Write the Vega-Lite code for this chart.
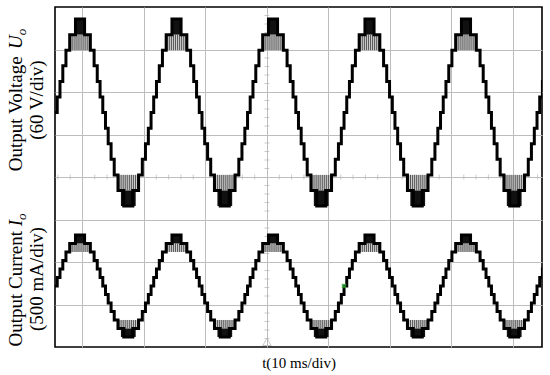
{
  "$schema": "https://vega.github.io/schema/vega-lite/v6.json",
  "width": 487,
  "height": 340,
  "autosize": "none",
  "padding": {"left": 55, "top": 7, "right": 8, "bottom": 28},
  "background": "#ffffff",
  "config": {"view": {"stroke": "#000000", "strokeWidth": 1.6}, "font": "Liberation Serif"},
  "datasets": {
    "minorV": [
      {"t":0,"d":-3.8},{"t":0,"d":-3.6},{"t":0,"d":-3.4},{"t":0,"d":-3.2},{"t":0,"d":-2.8},{"t":0,"d":-2.6},{"t":0,"d":-2.4},{"t":0,"d":-2.2},
      {"t":0,"d":-1.8},{"t":0,"d":-1.6},{"t":0,"d":-1.4},{"t":0,"d":-1.2},{"t":0,"d":-0.8},{"t":0,"d":-0.6},{"t":0,"d":-0.4},{"t":0,"d":-0.2},
      {"t":0,"d":0.2},{"t":0,"d":0.4},{"t":0,"d":0.6},{"t":0,"d":0.8},{"t":0,"d":1.2},{"t":0,"d":1.4},{"t":0,"d":1.6},{"t":0,"d":1.8},
      {"t":0,"d":2.2},{"t":0,"d":2.4},{"t":0,"d":2.6},{"t":0,"d":2.8},{"t":0,"d":3.2},{"t":0,"d":3.4},{"t":0,"d":3.6},{"t":0,"d":3.8}
    ],
    "minorH": [
      {"t":-34,"d":0},{"t":-32,"d":0},{"t":-28,"d":0},{"t":-26,"d":0},{"t":-24,"d":0},{"t":-22,"d":0},{"t":-18,"d":0},{"t":-16,"d":0},
      {"t":-14,"d":0},{"t":-12,"d":0},{"t":-8,"d":0},{"t":-6,"d":0},{"t":-4,"d":0},{"t":-2,"d":0},{"t":2,"d":0},{"t":4,"d":0},
      {"t":6,"d":0},{"t":8,"d":0},{"t":12,"d":0},{"t":14,"d":0},{"t":16,"d":0},{"t":18,"d":0},{"t":22,"d":0},{"t":24,"d":0},
      {"t":26,"d":0},{"t":28,"d":0},{"t":32,"d":0},{"t":34,"d":0},{"t":36,"d":0},{"t":38,"d":0},{"t":42,"d":0},{"t":44,"d":0}
    ],
    "labels": [
      {"t":-39.84,"d":0.134,"label":"Output Voltage"},
      {"t":-36.42,"d":0.874,"label":"(60 V/div)"},
      {"t":-39.84,"d":-3.99,"label":"Output Current"},
      {"t":-36.42,"d":-3.624,"label":"(500 mA/div)"}
    ],
    "italics": [
      {"t":-39.84,"d":3.014,"label":"U"},
      {"t":-39.84,"d":-1.16,"label":"I"}
    ],
    "subs": [
      {"t":-39.84,"d":3.336,"label":"o"},
      {"t":-39.84,"d":-1.012,"label":"o"}
    ],
    "markers": [
      {"t":0,"d":-3.88,"kind":"trigger"}
    ],
    "cursor": [
      {"t":12.52,"d":-2.565}
    ],
    "chop": [
      {"t1":-32.08,"t2":-28.72,"u1":88,"u2":110,"i1":0.4,"i2":0.5,"shade":"sparse"},
      {"t1":-16.39,"t2":-13.03,"u1":88,"u2":110,"i1":0.4,"i2":0.5,"shade":"sparse"},
      {"t1":-0.70,"t2":2.66,"u1":88,"u2":110,"i1":0.4,"i2":0.5,"shade":"sparse"},
      {"t1":14.99,"t2":18.35,"u1":88,"u2":110,"i1":0.4,"i2":0.5,"shade":"sparse"},
      {"t1":30.68,"t2":34.04,"u1":88,"u2":110,"i1":0.4,"i2":0.5,"shade":"sparse"},
      {"t1":-24.25,"t2":-20.85,"u1":-110,"u2":-88,"i1":-0.5,"i2":-0.4,"shade":"sparse"},
      {"t1":-8.56,"t2":-5.16,"u1":-110,"u2":-88,"i1":-0.5,"i2":-0.4,"shade":"sparse"},
      {"t1":7.12,"t2":10.52,"u1":-110,"u2":-88,"i1":-0.5,"i2":-0.4,"shade":"sparse"},
      {"t1":22.81,"t2":26.21,"u1":-110,"u2":-88,"i1":-0.5,"i2":-0.4,"shade":"sparse"},
      {"t1":38.50,"t2":41.90,"u1":-110,"u2":-88,"i1":-0.5,"i2":-0.4,"shade":"sparse"},
      {"t1":-31.25,"t2":-29.55,"u1":110,"u2":132,"i1":0.5,"i2":0.6,"shade":"dense"},
      {"t1":-15.56,"t2":-13.86,"u1":110,"u2":132,"i1":0.5,"i2":0.6,"shade":"dense"},
      {"t1":0.13,"t2":1.83,"u1":110,"u2":132,"i1":0.5,"i2":0.6,"shade":"dense"},
      {"t1":15.82,"t2":17.52,"u1":110,"u2":132,"i1":0.5,"i2":0.6,"shade":"dense"},
      {"t1":31.51,"t2":33.21,"u1":110,"u2":132,"i1":0.5,"i2":0.6,"shade":"dense"},
      {"t1":-23.75,"t2":-21.35,"u1":-132,"u2":-110,"i1":-0.6,"i2":-0.5,"shade":"dense"},
      {"t1":-8.06,"t2":-5.66,"u1":-132,"u2":-110,"i1":-0.6,"i2":-0.5,"shade":"dense"},
      {"t1":7.62,"t2":10.02,"u1":-132,"u2":-110,"i1":-0.6,"i2":-0.5,"shade":"dense"},
      {"t1":23.31,"t2":25.71,"u1":-132,"u2":-110,"i1":-0.6,"i2":-0.5,"shade":"dense"},
      {"t1":39.00,"t2":41.40,"u1":-132,"u2":-110,"i1":-0.6,"i2":-0.5,"shade":"dense"}
    ],
    "stripes": [
      {"t":-31.90,"u1":88,"u2":110,"i1":0.4,"i2":0.5},{"t":-31.57,"u1":88,"u2":110,"i1":0.4,"i2":0.5},{"t":-31.23,"u1":88,"u2":110,"i1":0.4,"i2":0.5},{"t":-30.90,"u1":88,"u2":110,"i1":0.4,"i2":0.5},{"t":-30.57,"u1":88,"u2":110,"i1":0.4,"i2":0.5},
      {"t":-30.23,"u1":88,"u2":110,"i1":0.4,"i2":0.5},{"t":-29.90,"u1":88,"u2":110,"i1":0.4,"i2":0.5},{"t":-29.57,"u1":88,"u2":110,"i1":0.4,"i2":0.5},{"t":-29.23,"u1":88,"u2":110,"i1":0.4,"i2":0.5},{"t":-28.90,"u1":88,"u2":110,"i1":0.4,"i2":0.5},
      {"t":-16.21,"u1":88,"u2":110,"i1":0.4,"i2":0.5},{"t":-15.88,"u1":88,"u2":110,"i1":0.4,"i2":0.5},{"t":-15.54,"u1":88,"u2":110,"i1":0.4,"i2":0.5},{"t":-15.21,"u1":88,"u2":110,"i1":0.4,"i2":0.5},{"t":-14.88,"u1":88,"u2":110,"i1":0.4,"i2":0.5},
      {"t":-14.54,"u1":88,"u2":110,"i1":0.4,"i2":0.5},{"t":-14.21,"u1":88,"u2":110,"i1":0.4,"i2":0.5},{"t":-13.88,"u1":88,"u2":110,"i1":0.4,"i2":0.5},{"t":-13.54,"u1":88,"u2":110,"i1":0.4,"i2":0.5},{"t":-13.21,"u1":88,"u2":110,"i1":0.4,"i2":0.5},
      {"t":-0.52,"u1":88,"u2":110,"i1":0.4,"i2":0.5},{"t":-0.19,"u1":88,"u2":110,"i1":0.4,"i2":0.5},{"t":0.15,"u1":88,"u2":110,"i1":0.4,"i2":0.5},{"t":0.48,"u1":88,"u2":110,"i1":0.4,"i2":0.5},{"t":0.81,"u1":88,"u2":110,"i1":0.4,"i2":0.5},
      {"t":1.15,"u1":88,"u2":110,"i1":0.4,"i2":0.5},{"t":1.48,"u1":88,"u2":110,"i1":0.4,"i2":0.5},{"t":1.81,"u1":88,"u2":110,"i1":0.4,"i2":0.5},{"t":2.15,"u1":88,"u2":110,"i1":0.4,"i2":0.5},{"t":2.48,"u1":88,"u2":110,"i1":0.4,"i2":0.5},
      {"t":15.17,"u1":88,"u2":110,"i1":0.4,"i2":0.5},{"t":15.50,"u1":88,"u2":110,"i1":0.4,"i2":0.5},{"t":15.84,"u1":88,"u2":110,"i1":0.4,"i2":0.5},{"t":16.17,"u1":88,"u2":110,"i1":0.4,"i2":0.5},{"t":16.50,"u1":88,"u2":110,"i1":0.4,"i2":0.5},
      {"t":16.84,"u1":88,"u2":110,"i1":0.4,"i2":0.5},{"t":17.17,"u1":88,"u2":110,"i1":0.4,"i2":0.5},{"t":17.50,"u1":88,"u2":110,"i1":0.4,"i2":0.5},{"t":17.84,"u1":88,"u2":110,"i1":0.4,"i2":0.5},{"t":18.17,"u1":88,"u2":110,"i1":0.4,"i2":0.5},
      {"t":30.86,"u1":88,"u2":110,"i1":0.4,"i2":0.5},{"t":31.19,"u1":88,"u2":110,"i1":0.4,"i2":0.5},{"t":31.53,"u1":88,"u2":110,"i1":0.4,"i2":0.5},{"t":31.86,"u1":88,"u2":110,"i1":0.4,"i2":0.5},{"t":32.19,"u1":88,"u2":110,"i1":0.4,"i2":0.5},
      {"t":32.53,"u1":88,"u2":110,"i1":0.4,"i2":0.5},{"t":32.86,"u1":88,"u2":110,"i1":0.4,"i2":0.5},{"t":33.19,"u1":88,"u2":110,"i1":0.4,"i2":0.5},{"t":33.53,"u1":88,"u2":110,"i1":0.4,"i2":0.5},{"t":33.86,"u1":88,"u2":110,"i1":0.4,"i2":0.5},
      {"t":-24.05,"u1":-110,"u2":-88,"i1":-0.5,"i2":-0.4},{"t":-23.72,"u1":-110,"u2":-88,"i1":-0.5,"i2":-0.4},{"t":-23.38,"u1":-110,"u2":-88,"i1":-0.5,"i2":-0.4},{"t":-23.05,"u1":-110,"u2":-88,"i1":-0.5,"i2":-0.4},{"t":-22.72,"u1":-110,"u2":-88,"i1":-0.5,"i2":-0.4},
      {"t":-22.38,"u1":-110,"u2":-88,"i1":-0.5,"i2":-0.4},{"t":-22.05,"u1":-110,"u2":-88,"i1":-0.5,"i2":-0.4},{"t":-21.72,"u1":-110,"u2":-88,"i1":-0.5,"i2":-0.4},{"t":-21.38,"u1":-110,"u2":-88,"i1":-0.5,"i2":-0.4},{"t":-21.05,"u1":-110,"u2":-88,"i1":-0.5,"i2":-0.4},
      {"t":-8.36,"u1":-110,"u2":-88,"i1":-0.5,"i2":-0.4},{"t":-8.03,"u1":-110,"u2":-88,"i1":-0.5,"i2":-0.4},{"t":-7.69,"u1":-110,"u2":-88,"i1":-0.5,"i2":-0.4},{"t":-7.36,"u1":-110,"u2":-88,"i1":-0.5,"i2":-0.4},{"t":-7.03,"u1":-110,"u2":-88,"i1":-0.5,"i2":-0.4},
      {"t":-6.69,"u1":-110,"u2":-88,"i1":-0.5,"i2":-0.4},{"t":-6.36,"u1":-110,"u2":-88,"i1":-0.5,"i2":-0.4},{"t":-6.03,"u1":-110,"u2":-88,"i1":-0.5,"i2":-0.4},{"t":-5.69,"u1":-110,"u2":-88,"i1":-0.5,"i2":-0.4},{"t":-5.36,"u1":-110,"u2":-88,"i1":-0.5,"i2":-0.4},
      {"t":7.32,"u1":-110,"u2":-88,"i1":-0.5,"i2":-0.4},{"t":7.65,"u1":-110,"u2":-88,"i1":-0.5,"i2":-0.4},{"t":7.99,"u1":-110,"u2":-88,"i1":-0.5,"i2":-0.4},{"t":8.32,"u1":-110,"u2":-88,"i1":-0.5,"i2":-0.4},{"t":8.65,"u1":-110,"u2":-88,"i1":-0.5,"i2":-0.4},
      {"t":8.99,"u1":-110,"u2":-88,"i1":-0.5,"i2":-0.4},{"t":9.32,"u1":-110,"u2":-88,"i1":-0.5,"i2":-0.4},{"t":9.65,"u1":-110,"u2":-88,"i1":-0.5,"i2":-0.4},{"t":9.99,"u1":-110,"u2":-88,"i1":-0.5,"i2":-0.4},{"t":10.32,"u1":-110,"u2":-88,"i1":-0.5,"i2":-0.4},
      {"t":23.01,"u1":-110,"u2":-88,"i1":-0.5,"i2":-0.4},{"t":23.34,"u1":-110,"u2":-88,"i1":-0.5,"i2":-0.4},{"t":23.68,"u1":-110,"u2":-88,"i1":-0.5,"i2":-0.4},{"t":24.01,"u1":-110,"u2":-88,"i1":-0.5,"i2":-0.4},{"t":24.34,"u1":-110,"u2":-88,"i1":-0.5,"i2":-0.4},
      {"t":24.68,"u1":-110,"u2":-88,"i1":-0.5,"i2":-0.4},{"t":25.01,"u1":-110,"u2":-88,"i1":-0.5,"i2":-0.4},{"t":25.34,"u1":-110,"u2":-88,"i1":-0.5,"i2":-0.4},{"t":25.68,"u1":-110,"u2":-88,"i1":-0.5,"i2":-0.4},{"t":26.01,"u1":-110,"u2":-88,"i1":-0.5,"i2":-0.4},
      {"t":38.70,"u1":-110,"u2":-88,"i1":-0.5,"i2":-0.4},{"t":39.03,"u1":-110,"u2":-88,"i1":-0.5,"i2":-0.4},{"t":39.37,"u1":-110,"u2":-88,"i1":-0.5,"i2":-0.4},{"t":39.70,"u1":-110,"u2":-88,"i1":-0.5,"i2":-0.4},{"t":40.03,"u1":-110,"u2":-88,"i1":-0.5,"i2":-0.4},
      {"t":40.37,"u1":-110,"u2":-88,"i1":-0.5,"i2":-0.4},{"t":40.70,"u1":-110,"u2":-88,"i1":-0.5,"i2":-0.4},{"t":41.03,"u1":-110,"u2":-88,"i1":-0.5,"i2":-0.4},{"t":41.37,"u1":-110,"u2":-88,"i1":-0.5,"i2":-0.4},{"t":41.70,"u1":-110,"u2":-88,"i1":-0.5,"i2":-0.4}
    ],
    "wave": [
      {"t":-34.54,"u":0,"i":0},{"t":-34.11,"u":22,"i":0.1},{"t":-33.66,"u":44,"i":0.2},{"t":-33.20,"u":66,"i":0.3},{"t":-32.69,"u":88,"i":0.4},{"t":-32.08,"u":110,"i":0.5},
      {"t":-31.14,"u":132,"i":0.6},{"t":-29.66,"u":110,"i":0.5},{"t":-28.72,"u":88,"i":0.4},{"t":-28.11,"u":66,"i":0.3},{"t":-27.60,"u":44,"i":0.2},{"t":-27.14,"u":22,"i":0.1},
      {"t":-26.70,"u":0,"i":0},{"t":-26.26,"u":-22,"i":-0.1},{"t":-25.82,"u":-44,"i":-0.2},{"t":-25.35,"u":-66,"i":-0.3},{"t":-24.84,"u":-88,"i":-0.4},{"t":-24.23,"u":-110,"i":-0.5},
      {"t":-23.29,"u":-132,"i":-0.6},{"t":-21.82,"u":-110,"i":-0.5},{"t":-20.88,"u":-88,"i":-0.4},{"t":-20.27,"u":-66,"i":-0.3},{"t":-19.76,"u":-44,"i":-0.2},{"t":-19.29,"u":-22,"i":-0.1},
      {"t":-18.85,"u":0,"i":0},{"t":-18.42,"u":22,"i":0.1},{"t":-17.97,"u":44,"i":0.2},{"t":-17.51,"u":66,"i":0.3},{"t":-17.00,"u":88,"i":0.4},{"t":-16.39,"u":110,"i":0.5},
      {"t":-15.45,"u":132,"i":0.6},{"t":-13.97,"u":110,"i":0.5},{"t":-13.03,"u":88,"i":0.4},{"t":-12.42,"u":66,"i":0.3},{"t":-11.91,"u":44,"i":0.2},{"t":-11.45,"u":22,"i":0.1},
      {"t":-11.01,"u":0,"i":0},{"t":-10.57,"u":-22,"i":-0.1},{"t":-10.13,"u":-44,"i":-0.2},{"t":-9.66,"u":-66,"i":-0.3},{"t":-9.15,"u":-88,"i":-0.4},{"t":-8.54,"u":-110,"i":-0.5},
      {"t":-7.60,"u":-132,"i":-0.6},{"t":-6.13,"u":-110,"i":-0.5},{"t":-5.19,"u":-88,"i":-0.4},{"t":-4.58,"u":-66,"i":-0.3},{"t":-4.07,"u":-44,"i":-0.2},{"t":-3.60,"u":-22,"i":-0.1},
      {"t":-3.16,"u":0,"i":0},{"t":-2.73,"u":22,"i":0.1},{"t":-2.28,"u":44,"i":0.2},{"t":-1.82,"u":66,"i":0.3},{"t":-1.31,"u":88,"i":0.4},{"t":-0.70,"u":110,"i":0.5},
      {"t":0.24,"u":132,"i":0.6},{"t":1.72,"u":110,"i":0.5},{"t":2.66,"u":88,"i":0.4},{"t":3.27,"u":66,"i":0.3},{"t":3.78,"u":44,"i":0.2},{"t":4.24,"u":22,"i":0.1},
      {"t":4.69,"u":0,"i":0},{"t":5.12,"u":-22,"i":-0.1},{"t":5.56,"u":-44,"i":-0.2},{"t":6.03,"u":-66,"i":-0.3},{"t":6.54,"u":-88,"i":-0.4},{"t":7.15,"u":-110,"i":-0.5},
      {"t":8.09,"u":-132,"i":-0.6},{"t":9.56,"u":-110,"i":-0.5},{"t":10.50,"u":-88,"i":-0.4},{"t":11.11,"u":-66,"i":-0.3},{"t":11.62,"u":-44,"i":-0.2},{"t":12.09,"u":-22,"i":-0.1},
      {"t":12.53,"u":0,"i":0},{"t":12.97,"u":22,"i":0.1},{"t":13.41,"u":44,"i":0.2},{"t":13.87,"u":66,"i":0.3},{"t":14.38,"u":88,"i":0.4},{"t":14.99,"u":110,"i":0.5},
      {"t":15.93,"u":132,"i":0.6},{"t":17.41,"u":110,"i":0.5},{"t":18.35,"u":88,"i":0.4},{"t":18.96,"u":66,"i":0.3},{"t":19.47,"u":44,"i":0.2},{"t":19.93,"u":22,"i":0.1},
      {"t":20.38,"u":0,"i":0},{"t":20.81,"u":-22,"i":-0.1},{"t":21.25,"u":-44,"i":-0.2},{"t":21.72,"u":-66,"i":-0.3},{"t":22.23,"u":-88,"i":-0.4},{"t":22.84,"u":-110,"i":-0.5},
      {"t":23.78,"u":-132,"i":-0.6},{"t":25.25,"u":-110,"i":-0.5},{"t":26.19,"u":-88,"i":-0.4},{"t":26.80,"u":-66,"i":-0.3},{"t":27.31,"u":-44,"i":-0.2},{"t":27.78,"u":-22,"i":-0.1},
      {"t":28.22,"u":0,"i":0},{"t":28.66,"u":22,"i":0.1},{"t":29.10,"u":44,"i":0.2},{"t":29.56,"u":66,"i":0.3},{"t":30.07,"u":88,"i":0.4},{"t":30.68,"u":110,"i":0.5},
      {"t":31.62,"u":132,"i":0.6},{"t":33.10,"u":110,"i":0.5},{"t":34.04,"u":88,"i":0.4},{"t":34.65,"u":66,"i":0.3},{"t":35.16,"u":44,"i":0.2},{"t":35.62,"u":22,"i":0.1},
      {"t":36.07,"u":0,"i":0},{"t":36.50,"u":-22,"i":-0.1},{"t":36.94,"u":-44,"i":-0.2},{"t":37.41,"u":-66,"i":-0.3},{"t":37.92,"u":-88,"i":-0.4},{"t":38.53,"u":-110,"i":-0.5},
      {"t":39.47,"u":-132,"i":-0.6},{"t":40.94,"u":-110,"i":-0.5},{"t":41.88,"u":-88,"i":-0.4},{"t":42.49,"u":-66,"i":-0.3},{"t":43.00,"u":-44,"i":-0.2},{"t":43.47,"u":-22,"i":-0.1},
      {"t":43.91,"u":0,"i":0},{"t":44.35,"u":22,"i":0.1},{"t":44.79,"u":44,"i":0.2},{"t":45.20,"u":44,"i":0.2}
    ]
  },
  "layer": [
    {
      "data": {"name": "minorV"},
      "mark": {"type": "tick", "orient": "horizontal", "color": "#b5b5b5", "thickness": 1, "size": 5},
      "encoding": {
        "x": {"field": "t", "type": "quantitative", "scale": {"domain": [-34.47, 44.72], "nice": false, "zero": false},
              "axis": {"values": [-30,-20,-10,0,10,20,30,40], "grid": true, "gridColor": "#bdbdbd", "gridWidth": 1, "labels": false, "ticks": false, "domain": false,
                       "title": "t(10 ms/div)", "titleFont": "Liberation Serif", "titleFontSize": 15, "titleFontWeight": "normal", "titleColor": "#000000", "titlePadding": 8}},
        "y": {"field": "d", "type": "quantitative", "scale": {"domain": [-4, 4], "nice": false, "zero": false},
              "axis": {"values": [-3,-2,-1,0,1,2,3], "grid": true, "gridColor": "#bdbdbd", "gridWidth": 1, "labels": false, "ticks": false, "domain": false, "title": null}}
      }
    },
    {
      "data": {"name": "minorH"},
      "mark": {"type": "tick", "orient": "vertical", "color": "#b5b5b5", "thickness": 1, "size": 5},
      "encoding": {
        "x": {"field": "t", "type": "quantitative", "scale": {"domain": [-34.47, 44.72], "nice": false, "zero": false}},
        "y": {"field": "d", "type": "quantitative", "scale": {"domain": [-4, 4], "nice": false, "zero": false}, "axis": null}
      }
    },
    {
      "data": {"name": "labels"},
      "mark": {"type": "text", "angle": 270, "align": "left", "baseline": "alphabetic", "font": "Liberation Serif", "fontSize": 19, "color": "#000000"},
      "encoding": {
        "x": {"field": "t", "type": "quantitative", "scale": {"domain": [-34.47, 44.72], "nice": false, "zero": false}},
        "y": {"field": "d", "type": "quantitative", "scale": {"domain": [-4, 4], "nice": false, "zero": false}, "axis": null},
        "text": {"field": "label"}
      }
    },
    {
      "data": {"name": "italics"},
      "mark": {"type": "text", "angle": 270, "align": "left", "baseline": "alphabetic", "font": "Liberation Serif", "fontStyle": "italic", "fontSize": 19, "color": "#000000"},
      "encoding": {
        "x": {"field": "t", "type": "quantitative", "scale": {"domain": [-34.47, 44.72], "nice": false, "zero": false}},
        "y": {"field": "d", "type": "quantitative", "scale": {"domain": [-4, 4], "nice": false, "zero": false}, "axis": null},
        "text": {"field": "label"}
      }
    },
    {
      "data": {"name": "subs"},
      "mark": {"type": "text", "angle": 270, "align": "left", "baseline": "alphabetic", "dy": 4, "font": "Liberation Serif", "fontStyle": "italic", "fontSize": 13, "color": "#000000"},
      "encoding": {
        "x": {"field": "t", "type": "quantitative", "scale": {"domain": [-34.47, 44.72], "nice": false, "zero": false}},
        "y": {"field": "d", "type": "quantitative", "scale": {"domain": [-4, 4], "nice": false, "zero": false}, "axis": null},
        "text": {"field": "label"}
      }
    },
    {
      "data": {"name": "markers"},
      "mark": {"type": "point", "shape": "triangle-up", "filled": false, "stroke": "#b0b0b0", "strokeWidth": 1, "size": 70},
      "encoding": {
        "x": {"field": "t", "type": "quantitative", "scale": {"domain": [-34.47, 44.72], "nice": false, "zero": false}},
        "y": {"field": "d", "type": "quantitative", "scale": {"domain": [-4, 4], "nice": false, "zero": false}, "axis": null}
      }
    },
    {
      "data": {"name": "chop"},
      "mark": {"type": "rect", "clip": true},
      "encoding": {
        "x": {"field": "t1", "type": "quantitative", "scale": {"domain": [-34.47, 44.72], "nice": false, "zero": false}},
        "x2": {"field": "t2"},
        "y": {"field": "u1", "type": "quantitative", "scale": {"domain": [-331, 149], "nice": false, "zero": false}, "axis": null},
        "y2": {"field": "u2"},
        "color": {"field": "shade", "type": "nominal", "scale": {"domain": ["sparse", "dense"], "range": ["#cfcfcf", "#111111"]}, "legend": null}
      }
    },
    {
      "data": {"name": "stripes"},
      "mark": {"type": "rule", "color": "#555555", "strokeWidth": 1, "clip": true},
      "encoding": {
        "x": {"field": "t", "type": "quantitative", "scale": {"domain": [-34.47, 44.72], "nice": false, "zero": false}},
        "y": {"field": "u1", "type": "quantitative", "scale": {"domain": [-331, 149], "nice": false, "zero": false}, "axis": null},
        "y2": {"field": "u2"}
      }
    },
    {
      "data": {"name": "wave"},
      "mark": {"type": "line", "interpolate": "step-after", "color": "#000000", "strokeWidth": 3, "clip": true},
      "encoding": {
        "x": {"field": "t", "type": "quantitative", "scale": {"domain": [-34.47, 44.72], "nice": false, "zero": false}},
        "y": {"field": "u", "type": "quantitative", "scale": {"domain": [-331, 149], "nice": false, "zero": false}, "axis": null}
      }
    },
    {
      "data": {"name": "chop"},
      "mark": {"type": "rect", "clip": true},
      "encoding": {
        "x": {"field": "t1", "type": "quantitative", "scale": {"domain": [-34.47, 44.72], "nice": false, "zero": false}},
        "x2": {"field": "t2"},
        "y": {"field": "i1", "type": "quantitative", "scale": {"domain": [-0.718, 3.282], "nice": false, "zero": false}, "axis": null},
        "y2": {"field": "i2"},
        "color": {"field": "shade", "type": "nominal", "scale": {"domain": ["sparse", "dense"], "range": ["#cfcfcf", "#111111"]}, "legend": null}
      }
    },
    {
      "data": {"name": "stripes"},
      "mark": {"type": "rule", "color": "#555555", "strokeWidth": 1, "clip": true},
      "encoding": {
        "x": {"field": "t", "type": "quantitative", "scale": {"domain": [-34.47, 44.72], "nice": false, "zero": false}},
        "y": {"field": "i1", "type": "quantitative", "scale": {"domain": [-0.718, 3.282], "nice": false, "zero": false}, "axis": null},
        "y2": {"field": "i2"}
      }
    },
    {
      "data": {"name": "wave"},
      "mark": {"type": "line", "interpolate": "step-after", "color": "#000000", "strokeWidth": 3, "clip": true},
      "encoding": {
        "x": {"field": "t", "type": "quantitative", "scale": {"domain": [-34.47, 44.72], "nice": false, "zero": false}},
        "y": {"field": "i", "type": "quantitative", "scale": {"domain": [-0.718, 3.282], "nice": false, "zero": false}, "axis": null}
      }
    },
    {
      "data": {"name": "cursor"},
      "mark": {"type": "point", "shape": "cross", "filled": true, "color": "#33bb33", "size": 30, "angle": 45},
      "encoding": {
        "x": {"field": "t", "type": "quantitative", "scale": {"domain": [-34.47, 44.72], "nice": false, "zero": false}},
        "y": {"field": "d", "type": "quantitative", "scale": {"domain": [-4, 4], "nice": false, "zero": false}, "axis": null}
      }
    }
  ],
  "resolve": {"scale": {"y": "independent", "color": "independent"}}
}
